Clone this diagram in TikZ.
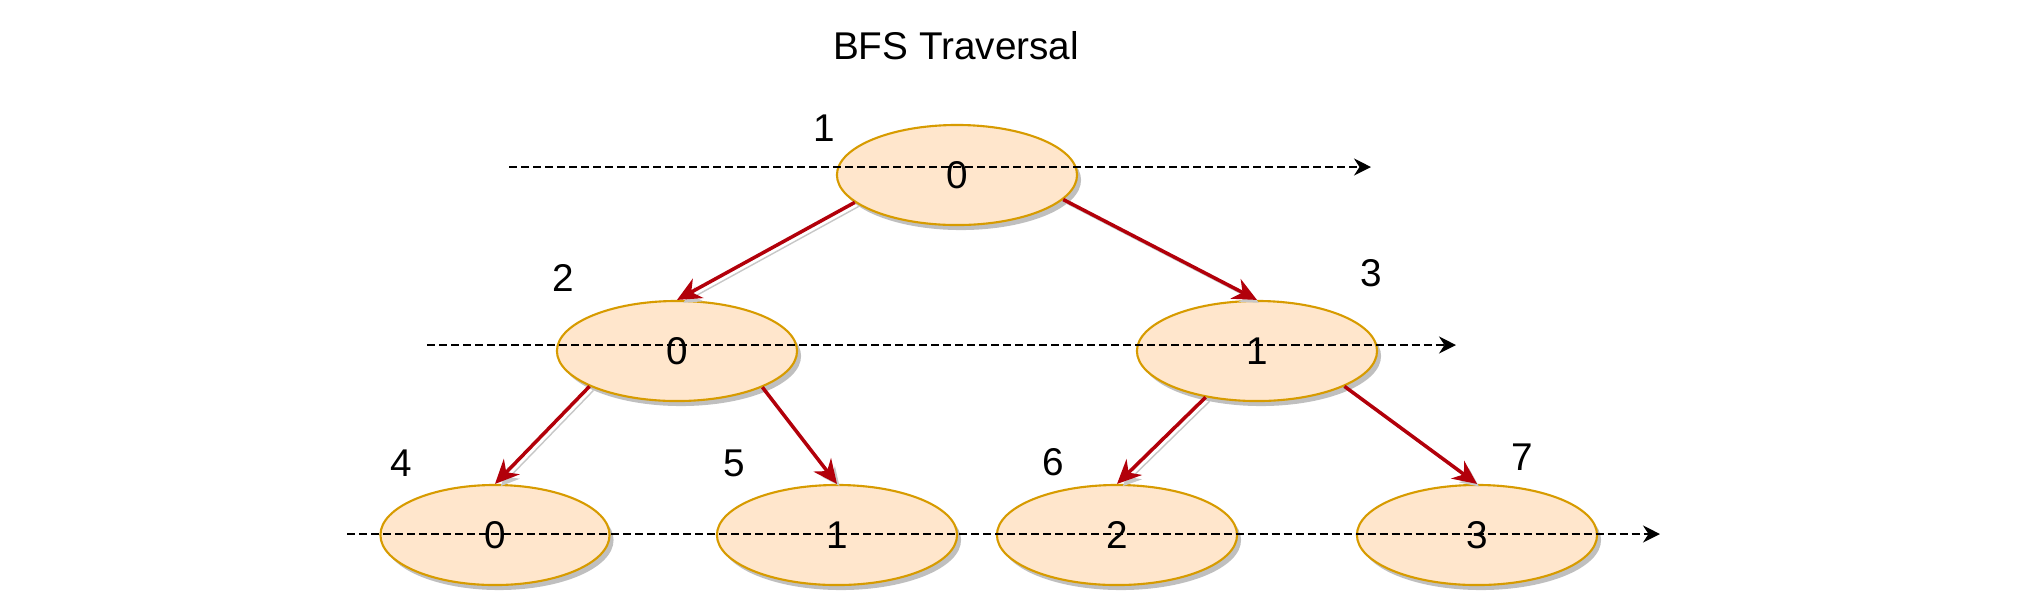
\documentclass[tikz,border=0pt]{standalone}
\usepackage{fontspec}
\setmainfont{Liberation Sans}
\usetikzlibrary{arrows.meta,shapes.geometric,shadows}
\definecolor{nodefill}{RGB}{255,230,204}
\definecolor{nodeedge}{RGB}{215,155,0}
\definecolor{edgered}{RGB}{178,0,10}
\tikzset{
  tree node/.style={
    ellipse, draw=nodeedge, line width=0.6pt, fill=nodefill,
    minimum width=2.4cm, minimum height=1cm, inner sep=0pt,
    font=\fontsize{11}{13}\selectfont,
    drop shadow={shadow xshift=0.04cm, shadow yshift=-0.05cm, fill=black!25, opacity=1}
  },
  tree arrow/.style={-{Stealth[length=2.4mm,width=2.2mm]}, line width=1pt, edgered,
    preaction={draw=black!22, transform canvas={xshift=0.04cm, yshift=-0.04cm}}},
  level line/.style={-{Stealth[length=1.7mm,width=1.7mm]}, line width=0.55pt,
    dash pattern=on 0.8mm off 0.4mm},
  order label/.style={font=\fontsize{11}{13}\selectfont}
}
\begin{document}
\begin{tikzpicture}[x=0.01cm, y=-0.01cm]
  \useasboundingbox (0,0) rectangle (2044,614);
  \node[order label] (title) at (956,46) {BFS Traversal};
  % tree
  \node[tree node] (root) at (957,175) {0};
  \node[tree node] (midleft) at (677,351) {0};
  \node[tree node] (midright) at (1257,351) {1};
  \node[tree node, minimum width=2.29cm] (leafa) at (495,535) {0};
  \node[tree node] (leafb) at (837,535) {1};
  \node[tree node] (leafc) at (1117,535) {2};
  \node[tree node] (leafd) at (1477,535) {3};
  % visiting order
  \node[order label] (ord1) at (824,128) {1};
  \node[order label] (ord2) at (563,278) {2};
  \node[order label] (ord3) at (1371,273) {3};
  \node[order label] (ord4) at (401,463) {4};
  \node[order label] (ord5) at (734,463) {5};
  \node[order label] (ord6) at (1053,462) {6};
  \node[order label] (ord7) at (1522,457) {7};
  \draw[tree arrow] (root.-165) -- (midleft.north);
  \draw[tree arrow] (root.-13) -- (midright.north);
  \draw[tree arrow] (midleft.-158) -- (leafa.north);
  \draw[tree arrow] (midleft.-23) -- (leafb.north);
  \draw[tree arrow] (midright.-138) -- (leafc.north);
  \draw[tree arrow] (midright.-22) -- (leafd.north);
  % level lines
  \coordinate (row1start) at (509,167);
  \coordinate (row1end) at (1371,167);
  \coordinate (row2start) at (427,345);
  \coordinate (row2end) at (1456,345);
  \coordinate (row3start) at (347,534);
  \coordinate (row3end) at (1660,534);
  \draw[level line] (row1start) -- (row1end);
  \draw[level line] (row2start) -- (row2end);
  \draw[level line] (row3start) -- (row3end);
\end{tikzpicture}
\end{document}
